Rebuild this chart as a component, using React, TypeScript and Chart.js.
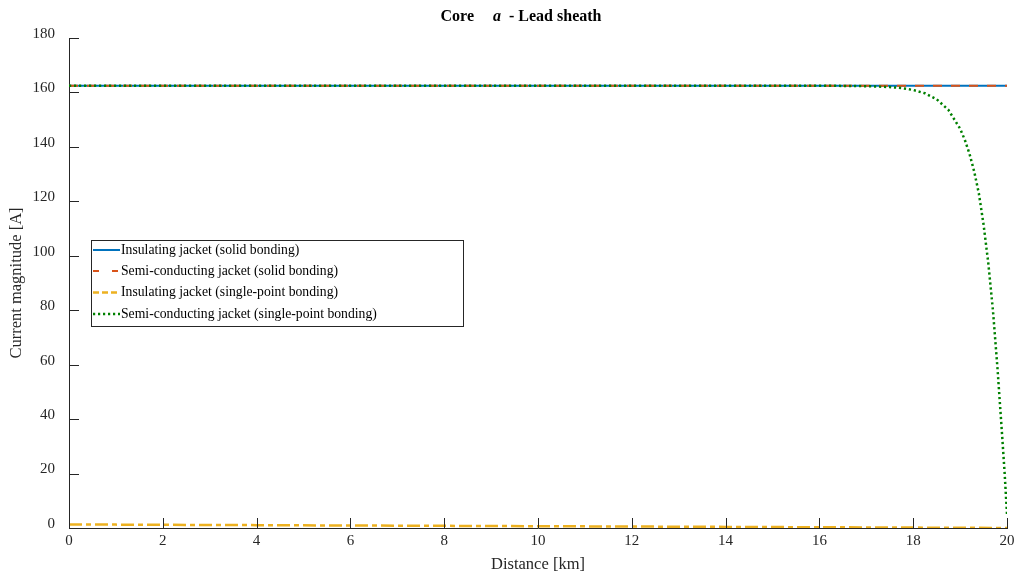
import { useEffect, useRef } from "react";
import { Chart, registerables } from "chart.js";

Chart.register(...registerables);

// Distance along the cable route [km]
const distanceKm = [0, 1, 2, 3, 4, 5, 6, 7, 8, 9, 10, 11, 12, 13, 14, 15, 16, 17, 18, 19, 20];

// Lead sheath current magnitude [A]
const insulatingSolid = [162.5, 162.5, 162.5, 162.5, 162.5, 162.5, 162.5, 162.5, 162.5, 162.5, 162.5, 162.5, 162.5, 162.5, 162.5, 162.5, 162.5, 162.5, 162.5, 162.5, 162.5];
const semiConductingSolid = [162.5, 162.5, 162.5, 162.5, 162.5, 162.5, 162.5, 162.5, 162.5, 162.5, 162.5, 162.5, 162.5, 162.5, 162.5, 162.5, 162.5, 162.5, 162.5, 162.5, 162.5];
const insulatingSinglePoint = [1.3, 1.24, 1.18, 1.11, 1.05, 0.98, 0.92, 0.86, 0.79, 0.73, 0.66, 0.6, 0.54, 0.47, 0.41, 0.34, 0.28, 0.22, 0.15, 0.09, 0.02];

const semiSinglePointKm = [0, 2, 4, 6, 8, 10, 12, 14, 16, 17, 17.5, 17.75, 18, 18.25, 18.5, 18.75, 19, 19.1, 19.2, 19.3, 19.4, 19.5, 19.6, 19.7, 19.8, 19.9, 19.95, 20];
const semiSinglePoint = [162.5, 162.5, 162.5, 162.5, 162.5, 162.5, 162.5, 162.5, 162.5, 162.3, 162.0, 161.6, 160.9, 159.7, 157.5, 153.6, 146.7, 142.6, 137.5, 131.0, 122.9, 111.5, 97.5, 80.0, 58.0, 33.0, 20.0, 5.0];

const xTickValues = [0, 2, 4, 6, 8, 10, 12, 14, 16, 18, 20];
const yTickValues = [0, 20, 40, 60, 80, 100, 120, 140, 160, 180];

const FONT = '"Liberation Serif", "Times New Roman", serif';
const AXIS = "#262626";

const toPoints = (xs: number[], ys: number[]) => xs.map((x, i) => ({ x, y: ys[i] }));

// Draws the title with an italic phase letter, inward tick marks and the boxed legend
const decorations = {
  id: "decorations",
  afterDraw(chart: any) {
    const { ctx, chartArea, scales } = chart;
    ctx.save();

    // inward tick marks
    ctx.strokeStyle = AXIS;
    ctx.lineWidth = 1;
    ctx.beginPath();
    for (const v of yTickValues) {
      const py = Math.round(scales.y.getPixelForValue(v)) + 0.5;
      ctx.moveTo(chartArea.left, py);
      ctx.lineTo(chartArea.left + 10, py);
    }
    for (const v of xTickValues) {
      const px = Math.round(scales.x.getPixelForValue(v)) + 0.5;
      ctx.moveTo(px, chartArea.bottom);
      ctx.lineTo(px, chartArea.bottom - 10);
    }
    ctx.stroke();

    // title: "Core  a - Lead sheath"
    const parts = [
      { t: "Core", f: `bold 16px ${FONT}`, gap: 19 },
      { t: "a", f: `italic bold 16px ${FONT}`, gap: 8 },
      { t: "- Lead sheath", f: `bold 16px ${FONT}`, gap: 0 },
    ];
    let total = 0;
    for (const p of parts) {
      ctx.font = p.f;
      total += ctx.measureText(p.t).width + p.gap;
    }
    let tx = 521 - total / 2;
    ctx.fillStyle = "#000";
    ctx.textBaseline = "alphabetic";
    ctx.textAlign = "left";
    for (const p of parts) {
      ctx.font = p.f;
      ctx.fillText(p.t, tx, 21);
      tx += ctx.measureText(p.t).width + p.gap;
    }

    // legend
    const lx = 91.5, ly = 240.5, lw = 372, lh = 86;
    ctx.fillStyle = "#fff";
    ctx.fillRect(lx, ly, lw, lh);
    ctx.strokeStyle = AXIS;
    ctx.lineWidth = 1;
    ctx.strokeRect(lx, ly, lw, lh);
    const rows = [250, 271, 292.5, 314];
    const metas = chart.data.datasets;
    ctx.font = `13.7px ${FONT}`;
    ctx.textBaseline = "middle";
    metas.forEach((ds: any, i: number) => {
      const y = rows[i];
      ctx.save();
      ctx.strokeStyle = ds.borderColor;
      ctx.lineWidth = ds.borderWidth;
      ctx.setLineDash(ds.legendDash || ds.borderDash || []);
      ctx.beginPath();
      ctx.moveTo(93, y);
      ctx.lineTo(120, y);
      ctx.stroke();
      ctx.restore();
      ctx.fillStyle = "#000";
      ctx.fillText(ds.label, 121, y);
    });

    ctx.restore();
  },
};

export default function App() {
  const canvasRef = useRef<HTMLCanvasElement | null>(null);

  useEffect(() => {
    if (!canvasRef.current) return;
    const chart = new Chart(canvasRef.current, {
      type: "line",
      data: {
        datasets: [
          {
            label: "Insulating jacket (solid bonding)",
            data: toPoints(distanceKm, insulatingSolid),
            borderColor: "#0072BD",
            borderWidth: 2,
            order: 3,
          },
          {
            label: "Semi-conducting jacket (solid bonding)",
            data: toPoints(distanceKm, semiConductingSolid),
            borderColor: "#D95319",
            borderWidth: 2,
            borderDash: [9, 9],
            legendDash: [6, 13],
            order: 2,
          },
          {
            label: "Insulating jacket (single-point bonding)",
            data: toPoints(distanceKm, insulatingSinglePoint),
            borderColor: "#EDB120",
            borderWidth: 2.5,
            borderDash: [13, 4, 5, 4],
            legendDash: [6, 3],
            order: 1,
          },
          {
            label: "Semi-conducting jacket (single-point bonding)",
            data: toPoints(semiSinglePointKm, semiSinglePoint),
            borderColor: "#008000",
            borderWidth: 2.5,
            borderDash: [2.2, 2.8],
            order: 0,
          },
        ] as any,
      },
      options: {
        animation: false,
        responsive: false,
        devicePixelRatio: 1,
        layout: { padding: { left: 0, right: 7, top: 38, bottom: 0 } },
        elements: { point: { radius: 0 }, line: { tension: 0 } },
        plugins: { legend: { display: false }, tooltip: { enabled: false }, title: { display: false } },
        scales: {
          x: {
            type: "linear",
            min: 0,
            max: 20,
            afterFit: (s: any) => {
              s.height = 50;
              s.paddingLeft = 0;
              s.paddingRight = 0;
            },
            afterBuildTicks: (s: any) => {
              s.ticks = xTickValues.map((v) => ({ value: v }));
            },
            ticks: { font: { family: FONT, size: 15 }, color: AXIS, padding: 4, maxRotation: 0 },
            grid: { drawOnChartArea: false, drawTicks: false },
            border: { display: true, color: AXIS, width: 1 },
            title: {
              display: true,
              text: "Distance [km]",
              font: { family: FONT, size: 16.5 },
              color: AXIS,
              padding: { top: 0, bottom: 3 },
            },
          },
          y: {
            type: "linear",
            min: 0,
            max: 180,
            afterFit: (s: any) => {
              s.width = 69;
              s.paddingTop = 0;
              s.paddingBottom = 0;
            },
            afterBuildTicks: (s: any) => {
              s.ticks = yTickValues.map((v) => ({ value: v }));
            },
            ticks: { font: { family: FONT, size: 15 }, color: AXIS, padding: 14, labelOffset: -4 },
            grid: { drawOnChartArea: false, drawTicks: false },
            border: { display: true, color: AXIS, width: 1 },
            title: {
              display: true,
              text: "Current magnitude [A]",
              font: { family: FONT, size: 16.5 },
              color: AXIS,
              padding: { top: 7, bottom: 0 },
            },
          },
        },
      },
      plugins: [decorations],
    });
    return () => chart.destroy();
  }, []);

  return (
    <div style={{ position: "fixed", left: 0, top: 0, width: 1014, height: 578, background: "#fff" }}>
      <canvas ref={canvasRef} width={1014} height={578} />
    </div>
  );
}
